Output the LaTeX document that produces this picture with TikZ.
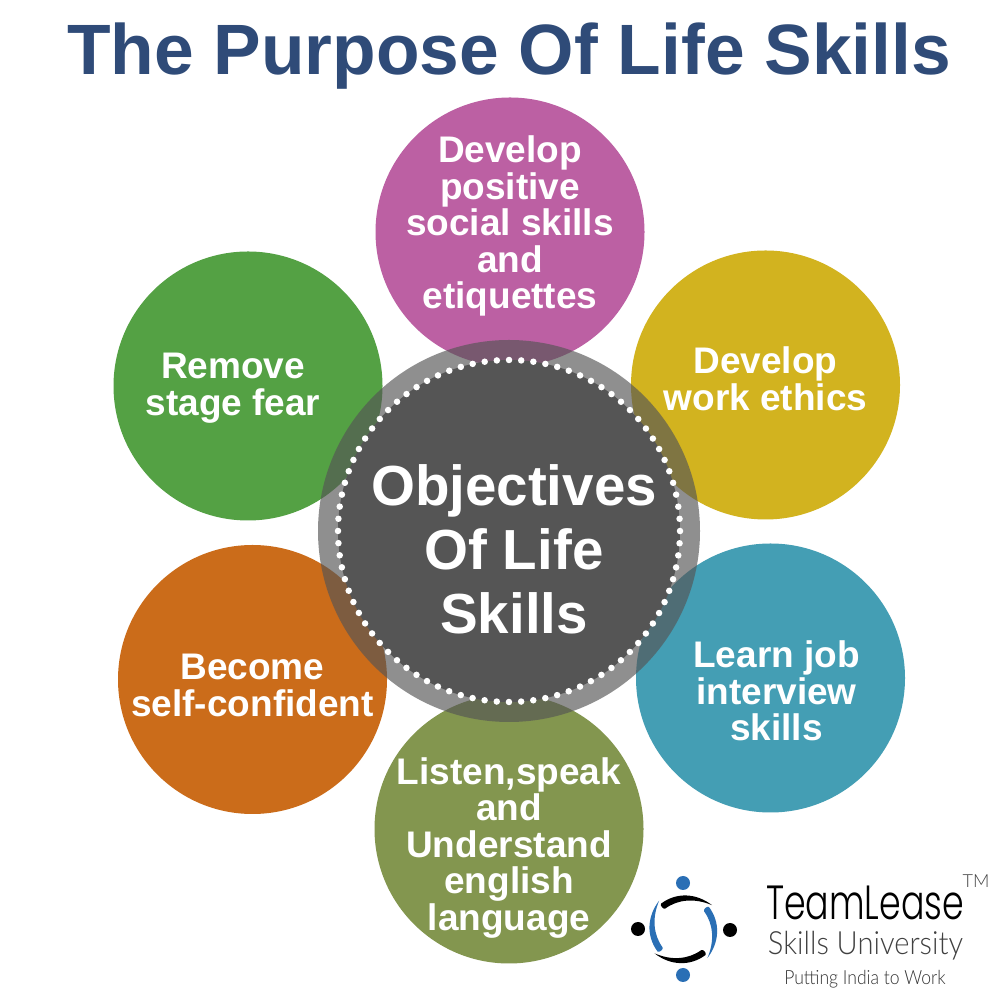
\documentclass[tikz,border=0pt]{standalone}
\usepackage{fontspec}
\setmainfont{Liberation Sans}
\newfontfamily\logofont{Lato Light}
\newfontfamily\brandfont{Poppins Light}
\usetikzlibrary{positioning}
\definecolor{titleblue}{HTML}{2F4B78}
\definecolor{logoblue}{HTML}{2A6FB5}
\definecolor{hubgray}{HTML}{555555}
\definecolor{cmagenta}{HTML}{BC60A3}
\definecolor{cgreen}{HTML}{54A144}
\definecolor{cyellow}{HTML}{D2B31F}
\definecolor{cteal}{HTML}{449EB4}
\definecolor{corange}{HTML}{CB6C1A}
\definecolor{colive}{HTML}{83964F}
\begin{document}
\begin{tikzpicture}[
      x = 1pt, y = 1pt,
  petal/.style = {circle, minimum size=269pt, inner sep=0pt},
  label/.style = {text=white, align=center, inner sep=0pt,
                  font=\fontsize{37}{36.5}\selectfont\bfseries},
    dot/.style = {circle, inner sep=0pt, minimum size=14pt}
                    ]
  \useasboundingbox [fill=white] (0,0) rectangle (1000,1000);
  \node (title) [anchor=base, text=titleblue, inner sep=0pt, font=\fontsize{71.3}{71}\selectfont\bfseries]
      at (509,925) {The Purpose Of Life Skills};
  % petals
  \node (social)  [petal, fill=cmagenta] at (510,768) {};
  \node (ethics)  [petal, fill=cyellow]  at (765.5,615) {};
  \node (job)     [petal, fill=cteal]    at (770.5,322) {};
  \node (english) [petal, fill=colive]   at (509,171) {};
  \node (confid)  [petal, fill=corange]  at (252.5,320.5) {};
  \node (fear)    [petal, fill=cgreen]   at (248,614) {};
  % hub
  \node (ring) [circle, fill=hubgray, fill opacity=.66, minimum size=382pt, inner sep=0pt]
      at (509,469) {};
  \node (hub) [circle, fill=hubgray, minimum size=342pt, inner sep=0pt] at (ring) {};
  \draw [white, line width=6.5pt, line cap=round, dash pattern=on 0pt off 12.21pt]
      (hub) circle (171pt);
  % labels
  \node (socialtext)  [label, yshift=6pt]  at (social)  {Develop\\positive\\social skills\\and\\etiquettes};
  \node (ethicstext)  [label, yshift=6pt]  at (ethics)  {Develop\\work ethics};
  \node (jobtext)     [label, xshift=6pt, yshift=-13pt] at (job) {Learn job\\interview\\skills};
  \node (englishtext) [label, yshift=-19pt] at (english) {Listen,speak\\and\\Understand\\english\\language};
  \node (confidtext)  [label, yshift=-6pt] at (confid)  {Become\\self-confident};
  \node (feartext)    [label, xshift=-15pt, yshift=-2pt] at (fear) {Remove\\stage fear};
  \node (hubtext) [label, font=\fontsize{56.5}{64}\selectfont\bfseries, xshift=5pt, yshift=-18pt]
      at (hub) {Objectives\\Of Life\\Skills};
  % logo
  \coordinate (logo) at (683.3,70.7);
  \node (blueN)  [dot, fill=logoblue] at (683,117) {};
  \node (blueS)  [dot, fill=logoblue] at (683,25) {};
  \node (blackW) [dot, fill=black]    at (638,71) {};
  \node (blackE) [dot, fill=black]    at (730,70) {};
  \foreach \rot/\col in {0/black, -90/logoblue, -180/black, -270/logoblue}
    \fill [\col, shift={(logo)}, rotate=\rot]
        (131:34) .. controls (100:38) and (70:38.5) .. (40:37.5)
        .. controls (70:33.5) and (100:30.5) .. (131:27.5)
        .. controls (135:28) and (135:33) .. (131:34);
  \node (brand) [anchor=base, inner sep=0pt, xscale=.725, transform shape,
                 font=\brandfont\fontsize{48}{48}\selectfont]
      at (865,80) {TeamLease};
  \node (school) [anchor=base, inner sep=0pt, text=black!75, xscale=.91, transform shape,
                  font=\logofont\fontsize{32}{32}\selectfont]
      at (865.5,45) {Skills University};
  \node (motto) [anchor=base, inner sep=0pt, text=black!80, xscale=.9, transform shape,
                 font=\logofont\fontsize{19.5}{19.5}\selectfont]
      at (865,16) {Putting India to Work};
  \node (tm) [anchor=base, inner sep=0pt, text=black!75, font=\logofont\fontsize{18}{18}\selectfont]
      at (976,112) {TM};
\end{tikzpicture}
\end{document}
